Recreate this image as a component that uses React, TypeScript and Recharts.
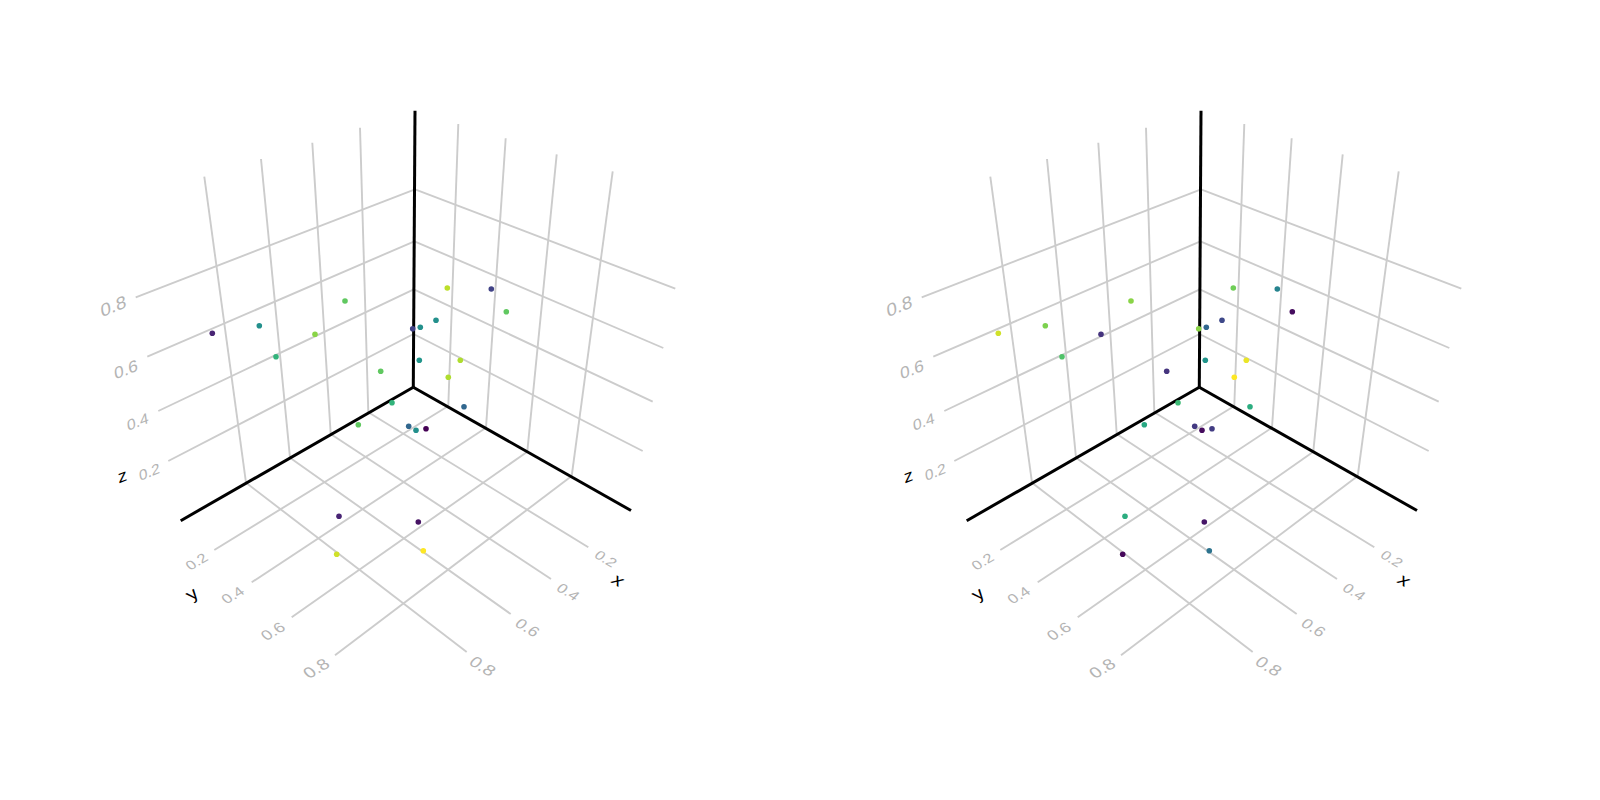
import React from 'react';
import { ReferenceLine, Scatter, ScatterChart, XAxis, YAxis } from 'recharts';

const tickNames = ['0.2', '0.4', '0.6', '0.8'];

const origin = [413.3, 387.3];
const axisEnds = [
  [631, 510.5],
  [180.7, 520.7],
  [415, 110.7],
];

// x ticks: foot on the x axis, top of the wall, end on the floor
const xFoot = [[448.3, 406], [486, 427.7], [527.3, 451.7], [571.7, 476]];
const xTop = [[458.3, 124], [505.7, 138.3], [556.7, 154.3], [612.7, 171.3]];
const xFloor = [[214.3, 550], [251.7, 582.3], [291.7, 617.3], [335, 655.3]];

// y ticks
const yFoot = [[368.3, 412.3], [330.7, 434], [290, 457.7], [246, 482.7]];
const yTop = [[360, 127.7], [312.3, 142.7], [261, 159], [204.3, 176.7]];
const yFloor = [[588.3, 547.3], [551, 579], [510.7, 614], [466.7, 652]];

// z ticks: where they cross the z axis and where they end on each wall
const zAxisHit = [[413.5, 334], [413.8, 289.3], [414.4, 241.3], [415, 189.3]];
const zLeft = [[168.3, 461], [158.3, 411], [147.3, 356.7], [135.7, 297.3]];
const zRight = [[642.7, 451], [652.7, 401.7], [663.3, 348], [675.3, 288.7]];

const xLabelAt = [[605.7, 559], [568.3, 591.7], [527.7, 627.3], [482.6, 666.3]];
const yLabelAt = [[196.7, 561.7], [232.7, 595], [272.7, 631], [316.3, 668.4]];
const zLabelAt = [[149.3, 471.7], [137.7, 421.7], [126, 369.3], [113.3, 306]];

const titleX = [618.3, 580];
const titleY = [191.7, 594];
const titleZ = [122.3, 476];

// both panels show the same points, only the colour variable changes
const pointX = [212.3, 259.3, 345, 315, 276, 380.7, 392, 358.3, 447.3, 491.3, 506.3, 436, 412.7, 420.3, 419.3, 460.3, 448.3, 464, 408.7, 416, 426, 339, 336.7, 418.3, 423.3];
const pointY = [333.3, 325.7, 301, 334.3, 356.7, 371.3, 402.7, 424.7, 288, 289, 311.7, 320.3, 328.7, 327.3, 360.3, 360.3, 377.3, 406.7, 426.3, 430.3, 428.7, 516.3, 554.3, 522, 550.7];
const colorLeft = [0.1, 0.5, 0.75, 0.82, 0.65, 0.75, 0.65, 0.75, 0.9, 0.2, 0.75, 0.5, 0.2, 0.5, 0.52, 0.88, 0.88, 0.33, 0.33, 0.5, 0.0, 0.1, 0.93, 0.05, 1.0];
const colorRight = [0.93, 0.8, 0.82, 0.15, 0.72, 0.15, 0.68, 0.6, 0.78, 0.45, 0.03, 0.22, 0.82, 0.33, 0.52, 0.97, 1.0, 0.62, 0.17, 0.03, 0.18, 0.62, 0.02, 0.06, 0.38];

const viridis = ['#440154', '#482878', '#3e4989', '#31688e', '#26828e', '#1f9e89', '#35b779', '#6ece58', '#b5de2b', '#fde725'];

function viridisAt(v: number) {
  const pos = v * (viridis.length - 1);
  const i = Math.min(Math.floor(pos), viridis.length - 2);
  const t = pos - i;
  const hex = (s: string, k: number) => parseInt(s.slice(1 + k * 2, 3 + k * 2), 16);
  const ch = [0, 1, 2].map((k) => Math.round(hex(viridis[i], k) * (1 - t) + hex(viridis[i + 1], k) * t));
  return `rgb(${ch.join(',')})`;
}

const GRID = '#cccccc';
const LABEL = '#b4b4b4';

type P = number[];
const pairs = (a: P[], b: P[]) => a.map((p, i) => [p, b[i]]);

const gridLines = [
  ...pairs(xFoot, xTop),
  ...pairs(xFoot, xFloor),
  ...pairs(yFoot, yTop),
  ...pairs(yFoot, yFloor),
  ...pairs(zAxisHit, zLeft),
  ...pairs(zAxisHit, zRight),
];

// text is flat on the box faces, so each face has its own baseline and down vectors
const faces: Record<string, number[]> = {
  x: [0.86, 0.52, -0.6, 0.66],
  y: [0.86, -0.52, 0.6, 0.66],
  z: [0.93, -0.37, 0.12, 0.9],
};
const floorSize = [15.5, 16, 17, 18.5];
const wallSize = [16, 16.5, 18, 19.5];

const tickRows = (pts: P[], face: string, sizes: number[]) =>
  pts.map((p, i) => ({ x: p[0], y: p[1], text: tickNames[i], face, size: sizes[i], fill: LABEL }));

const labelRows = [
  ...tickRows(xLabelAt, 'x', floorSize),
  ...tickRows(yLabelAt, 'y', floorSize),
  ...tickRows(zLabelAt, 'z', wallSize),
  { x: titleX[0], y: titleX[1], text: 'x', face: 'x', size: 20, fill: '#000' },
  { x: titleY[0], y: titleY[1], text: 'y', face: 'y', size: 20, fill: '#000' },
  { x: titleZ[0], y: titleZ[1], text: 'z', face: 'z', size: 19, fill: '#000' },
];

function FaceLabel(props: any) {
  const { cx, cy, payload } = props;
  const [a, b, c, d] = faces[payload.face];
  return (
    <text
      transform={`matrix(${a} ${b} ${c} ${d} ${cx} ${cy})`}
      textAnchor="middle"
      dominantBaseline="central"
      fontFamily='"Liberation Sans", sans-serif'
      fontSize={payload.size}
      fill={payload.fill}
    >
      {payload.text}
    </text>
  );
}

function Dot(props: any) {
  return <circle cx={props.cx} cy={props.cy} r={2.8} fill={props.payload.color} />;
}

function Panel({ colors, left }: { colors: number[]; left: number }) {
  const points = pointX.map((x, i) => ({ x, y: pointY[i], color: viridisAt(colors[i]) }));
  return (
    <div style={{ position: 'absolute', left, top: 0 }}>
      <ScatterChart width={786} height={800} margin={{ top: 0, right: 0, bottom: 0, left: 0 }}>
        <XAxis type="number" dataKey="x" domain={[0, 786]} hide />
        <YAxis type="number" dataKey="y" domain={[0, 800]} reversed hide />
        {gridLines.map((l, i) => (
          <ReferenceLine
            key={i}
            segment={[{ x: l[0][0], y: l[0][1] }, { x: l[1][0], y: l[1][1] }]}
            stroke={GRID}
            strokeWidth={1.9}
          />
        ))}
        {axisEnds.map((e, i) => (
          <ReferenceLine
            key={i}
            segment={[{ x: origin[0], y: origin[1] }, { x: e[0], y: e[1] }]}
            stroke="#000"
            strokeWidth={3}
          />
        ))}
        <Scatter data={labelRows} shape={FaceLabel} isAnimationActive={false} />
        <Scatter data={points} shape={Dot} isAnimationActive={false} />
      </ScatterChart>
    </div>
  );
}

export default function App() {
  return (
    <div style={{ position: 'absolute', left: 0, top: 0, width: 1600, height: 800, background: '#fff', overflow: 'hidden' }}>
      <Panel colors={colorLeft} left={0} />
      <Panel colors={colorRight} left={786} />
    </div>
  );
}
